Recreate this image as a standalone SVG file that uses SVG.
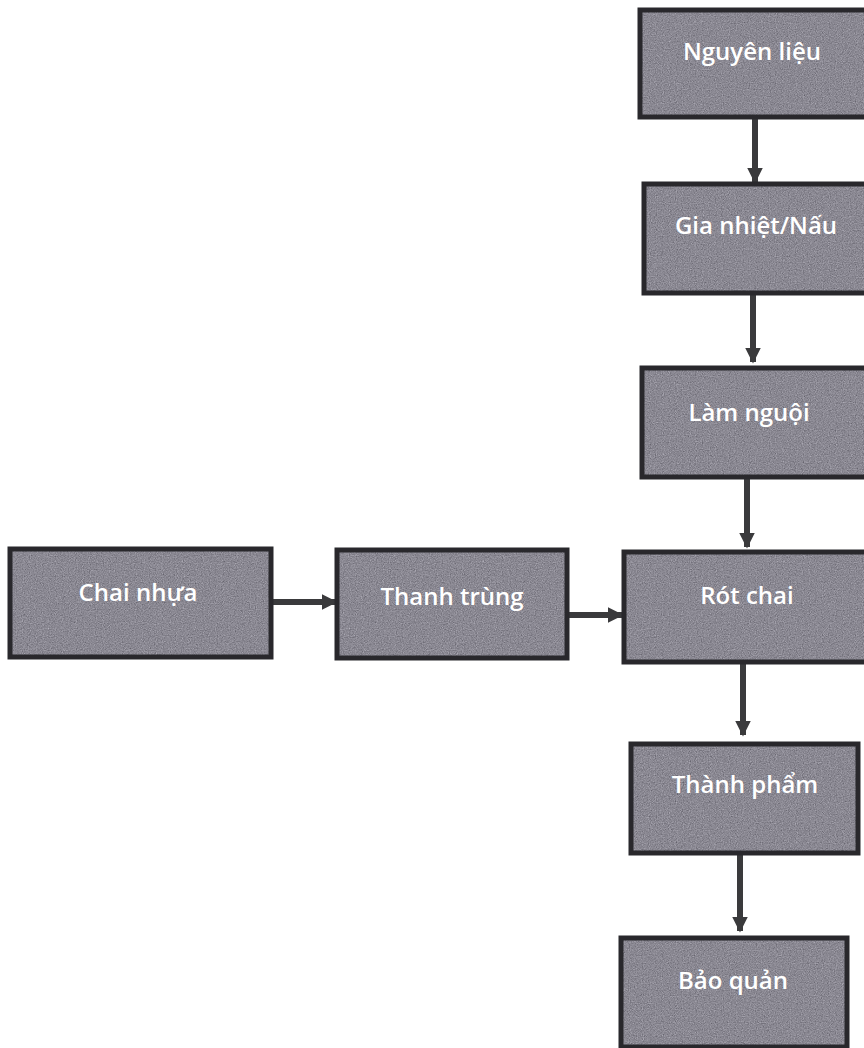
<svg xmlns="http://www.w3.org/2000/svg" width="864" height="1048" viewBox="0 0 864 1048">
  <defs>
    <filter id="grain" x="0" y="0" width="100%" height="100%" color-interpolation-filters="sRGB">
      <feTurbulence type="fractalNoise" baseFrequency="0.85" numOctaves="2" seed="7" result="n"/>
      <feColorMatrix in="n" type="matrix" values="0.33 0.33 0.33 0 0  0.33 0.33 0.33 0 0  0.33 0.33 0.33 0 0  0 0 0 0 1" result="g"/>
      <feComposite in="SourceGraphic" in2="g" operator="arithmetic" k1="0" k2="1" k3="0.6" k4="-0.29" result="m"/>
      <feComposite in="m" in2="SourceGraphic" operator="in"/>
    </filter>
    <marker id="ah" viewBox="0 0 10 10" refX="9" refY="5" markerWidth="2.6" markerHeight="2.6" markerUnits="strokeWidth" orient="auto">
      <path d="M0,0 L10,5 L0,10 z" fill="#3a3a3c"/>
    </marker>
  </defs>
  <style>
    .fill { fill: #888690; filter: url(#grain); }
    .edge { fill: none; stroke: #29282c; stroke-width: 5; }
    .lbl { font-family: "Open Sans", "Liberation Sans", sans-serif; font-weight: 600; font-size: 24px; fill: #ffffff; text-anchor: middle; }
    .conn { stroke: #3a3a3c; stroke-width: 6; fill: none; marker-end: url(#ah); }
  </style>
  <rect width="864" height="1048" fill="#ffffff"/>

  <g id="connectors">
    <line class="conn" x1="755" y1="117" x2="755" y2="182"/>
    <line class="conn" x1="753" y1="293" x2="753" y2="362"/>
    <line class="conn" x1="747" y1="477" x2="747" y2="547"/>
    <line class="conn" x1="271" y1="602" x2="336" y2="602"/>
    <line class="conn" x1="567" y1="615" x2="622" y2="615"/>
    <line class="conn" x1="743" y1="662" x2="743" y2="735"/>
    <line class="conn" x1="740" y1="853" x2="740" y2="931"/>
  </g>

  <g id="n-nguyenlieu">
    <rect class="fill" x="640" y="10" width="232" height="107"/>
    <rect class="edge" x="640" y="10" width="232" height="107"/>
    <text class="lbl" x="752" y="60">Nguyên liệu</text>
  </g>
  <g id="n-gianhiet">
    <rect class="fill" x="644" y="184" width="228" height="109"/>
    <rect class="edge" x="644" y="184" width="228" height="109"/>
    <text class="lbl" x="756" y="234">Gia nhiệt/Nấu</text>
  </g>
  <g id="n-lamnguoi">
    <rect class="fill" x="642" y="368" width="230" height="109"/>
    <rect class="edge" x="642" y="368" width="230" height="109"/>
    <text class="lbl" x="749" y="421">Làm nguội</text>
  </g>
  <g id="n-chainhua">
    <rect class="fill" x="10" y="549" width="261" height="108"/>
    <rect class="edge" x="10" y="549" width="261" height="108"/>
    <text class="lbl" x="138" y="601">Chai nhựa</text>
  </g>
  <g id="n-thanhtrung">
    <rect class="fill" x="337" y="550" width="230" height="108"/>
    <rect class="edge" x="337" y="550" width="230" height="108"/>
    <text class="lbl" x="452" y="605">Thanh trùng</text>
  </g>
  <g id="n-rotchai">
    <rect class="fill" x="624" y="552" width="248" height="110"/>
    <rect class="edge" x="624" y="552" width="248" height="110"/>
    <text class="lbl" x="747" y="604">Rót chai</text>
  </g>
  <g id="n-thanhpham">
    <rect class="fill" x="631" y="744" width="227" height="109"/>
    <rect class="edge" x="631" y="744" width="227" height="109"/>
    <text class="lbl" x="745" y="793">Thành phẩm</text>
  </g>
  <g id="n-baoquan">
    <rect class="fill" x="621" y="938" width="226" height="109"/>
    <rect class="edge" x="621" y="938" width="226" height="109"/>
    <text class="lbl" x="733" y="989">Bảo quản</text>
  </g>
</svg>
